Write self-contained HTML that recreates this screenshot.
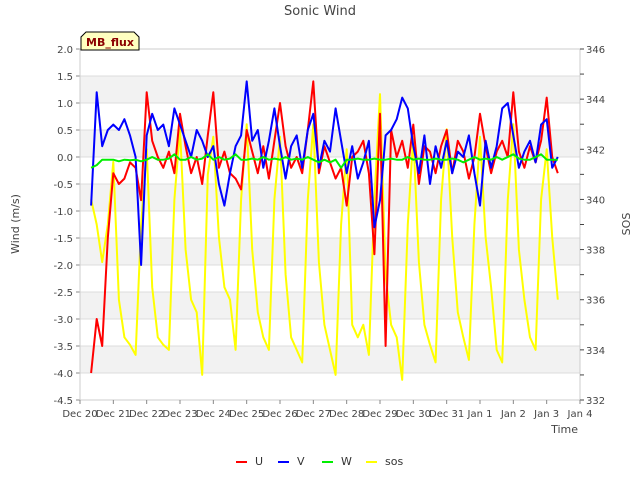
<!DOCTYPE html>
<html><head><meta charset="utf-8"><style>
body{margin:0;background:#fff;}
svg{font-family:"DejaVu Sans","Liberation Sans",sans-serif;}
</style></head><body>
<svg id="chart" width="640" height="480">
<rect width="640" height="480" fill="#fff"/>
<g id="bands"></g>
<g id="grid"></g>
<g id="axes"></g>
<g id="series"></g>
<text x="320" y="15" text-anchor="middle" font-size="13" fill="#444">Sonic Wind</text>
<g>
<path d="M81,50 L81,37 L86,32 L134,32 L139,37 L139,50 Z" fill="#ffffc0" stroke="#000" stroke-width="1"/>
<text x="110" y="46" text-anchor="middle" font-size="11" font-weight="bold" fill="#8b0000">MB_flux</text>
</g>
<text transform="translate(19,224) rotate(-90)" text-anchor="middle" font-size="11" fill="#444">Wind (m/s)</text>
<text transform="translate(630,224) rotate(-90)" text-anchor="middle" font-size="11" fill="#444">SOS</text>
<text x="578" y="433" text-anchor="end" font-size="11" fill="#444">Time</text>
<g id="legend"></g>
</svg>
<script>
const xTickLabels=["Dec 20","Dec 21","Dec 22","Dec 23","Dec 24","Dec 25","Dec 26","Dec 27","Dec 28","Dec 29","Dec 30","Dec 31","Jan 1","Jan 2","Jan 3","Jan 4"];
const yTicks=[2.0,1.5,1.0,0.5,0.0,-0.5,-1.0,-1.5,-2.0,-2.5,-3.0,-3.5,-4.0,-4.5];
const y2Ticks=[346,344,342,340,338,336,334,332];
const startT=1/3, stepT=1/6;
const U=[-4.0,-3.0,-3.5,-1.5,
-0.3,-0.5,-0.4,-0.1,-0.2,-0.8,
1.2,0.3,0.0,-0.2,0.1,-0.3,
0.8,0.2,-0.3,0.0,-0.5,0.4,
1.2,-0.2,0.1,-0.3,-0.4,-0.6,
0.5,0.1,-0.3,0.2,-0.4,0.3,
1.0,0.2,-0.2,0.0,-0.3,0.5,
1.4,-0.3,0.2,-0.1,-0.4,-0.2,
-0.9,0.0,0.1,0.3,-0.3,-1.8,
0.8,-3.5,0.5,0.0,0.3,-0.2,
0.6,-0.5,0.2,0.1,-0.3,0.2,
0.5,-0.3,0.3,0.1,-0.4,0.0,
0.8,0.2,-0.3,0.1,0.3,0.0,
1.2,0.1,-0.2,0.2,-0.1,0.3,
1.1,0.0,-0.3];
const V=[-0.9,1.2,0.2,0.5,
0.6,0.5,0.7,0.4,0.0,-2.0,
0.4,0.8,0.5,0.6,0.2,0.9,
0.6,0.3,0.0,0.5,0.3,0.0,
0.2,-0.5,-0.9,-0.3,0.2,0.4,
1.4,0.3,0.5,-0.2,0.3,0.9,
0.2,-0.4,0.2,0.4,-0.2,0.5,
0.8,-0.2,0.3,0.1,0.9,0.3,
-0.3,0.2,-0.4,-0.1,0.3,-1.3,
-0.8,0.4,0.5,0.7,1.1,0.9,
0.2,-0.3,0.4,-0.5,0.2,-0.2,
0.3,-0.3,0.1,0.0,0.4,-0.3,
-0.9,0.3,-0.2,0.2,0.9,1.0,
0.4,-0.2,0.1,0.3,-0.1,0.6,
0.7,-0.2,0.0];
const W=[-0.2,-0.15,-0.05,-0.05,
-0.05,-0.08,-0.05,-0.06,-0.05,-0.08,
-0.05,0.0,-0.05,-0.05,-0.03,0.05,
-0.05,-0.05,0.0,-0.05,-0.03,0.05,
-0.05,0.0,-0.05,-0.03,0.05,-0.05,
-0.05,-0.03,-0.05,0.0,-0.05,-0.03,
-0.05,0.0,-0.05,-0.03,-0.05,0.0,
-0.05,-0.1,-0.05,-0.1,-0.05,-0.2,
-0.05,-0.05,-0.03,-0.05,-0.05,-0.03,
-0.05,-0.05,-0.03,-0.05,-0.05,0.0,
-0.05,-0.03,-0.05,-0.05,-0.03,-0.05,
-0.05,-0.03,-0.05,-0.1,-0.05,0.0,
-0.05,-0.03,-0.05,0.0,-0.05,0.0,
0.05,-0.03,-0.05,-0.05,0.0,0.05,
-0.05,-0.05,-0.05];
const SOS=[340,339,337.5,339,
341.5,336,334.5,334.2,333.8,339,
342,336.5,334.5,334.2,334,340,
342.8,338,336,335.5,333,341,
342.5,338.5,336.5,336,334,340,
343,338,335.5,334.5,334,340,
342.5,337,334.5,334,333.5,340,
343,337.5,335,334,333,339,
342,335,334.5,335,333.8,340,
344.2,337,335,334.5,332.8,339,
342.5,337.5,335,334.2,333.5,340,
342.8,338.5,335.5,334.5,333.6,339,
342.5,338.5,336.5,334,333.5,340,
343,338,336,334.5,334,340,
342,338.5,336];
const X0=80,X1=580,Y0=49,Y1=400;
const xs=t=>X0+t*(X1-X0)/15;
const ys=v=>Y0+(2-v)*(Y1-Y0)/6.5;
const ys2=v=>Y0+(346-v)*(Y1-Y0)/14;
const NS="http://www.w3.org/2000/svg";
function mk(tag,attrs,parent){const e=document.createElementNS(NS,tag);for(const k in attrs)e.setAttribute(k,attrs[k]);parent.appendChild(e);return e;}
const bands=document.getElementById('bands'),grid=document.getElementById('grid'),axes=document.getElementById('axes'),series=document.getElementById('series'),legend=document.getElementById('legend');
mk('rect',{x:X0,y:Y0,width:X1-X0,height:Y1-Y0,fill:'#fff'},bands);
for(let v=1.5;v>-4.5;v-=1){const b=mk('rect',{x:X0,y:ys(v),width:X1-X0,height:ys(v-0.5)-ys(v),fill:'#f2f2f2'},bands);

}
yTicks.forEach(v=>{mk('line',{x1:X0,x2:X1,y1:ys(v),y2:ys(v),stroke:'#dcdcdc','stroke-width':1},grid);
const t=mk('text',{x:X0-7,y:ys(v)+4,'text-anchor':'end','font-size':10,fill:'#444'},axes);t.textContent=v.toFixed(1);


mk('line',{x1:X0-4,x2:X0,y1:ys(v),y2:ys(v),stroke:'#888'},axes);});
mk('rect',{x:X0,y:Y0,width:X1-X0,height:Y1-Y0,fill:'none',stroke:'#ccc'},axes);
for(let v=332;v<=346;v++){mk('line',{x1:X1,x2:X1+4,y1:ys2(v),y2:ys2(v),stroke:'#444'},axes);}
y2Ticks.forEach(v=>{const t=mk('text',{x:X1+6,y:ys2(v)+4,'font-size':10,fill:'#444'},axes);t.textContent=v;

});
xTickLabels.forEach((l,i)=>{mk('line',{x1:xs(i),x2:xs(i),y1:Y1,y2:Y1+4,stroke:'#888'},axes);
const t=mk('text',{x:xs(i),y:Y1+17,'text-anchor':'middle','font-size':10,fill:'#444'},axes);t.textContent=l;

});
function line(arr,yf,color,name){const pts=arr.map((v,i)=>xs(startT+i*stepT).toFixed(1)+','+yf(v).toFixed(1)).join(' ');
const p=mk('polyline',{points:pts,fill:'none',stroke:color,'stroke-width':2,'stroke-linejoin':'round'},series);

}
line(SOS,ys2,'#ffff00','sos-line');
line(U,ys,'#ff0000','u-line');
line(V,ys,'#0000ff','v-line');
line(W,ys,'#00ee00','w-line');
[['U','#ff0000',236],['V','#0000ff',278],['W','#00ee00',322],['sos','#ffff00',366]].forEach(([n,c,x])=>{
const g=mk('g',{},legend);


mk('line',{x1:x,x2:x+11,y1:462,y2:462,stroke:c,'stroke-width':2},g);
const t=mk('text',{x:x+19,y:465,'font-size':11,fill:'#333'},g);t.textContent=n;});
</script>
</body></html>
